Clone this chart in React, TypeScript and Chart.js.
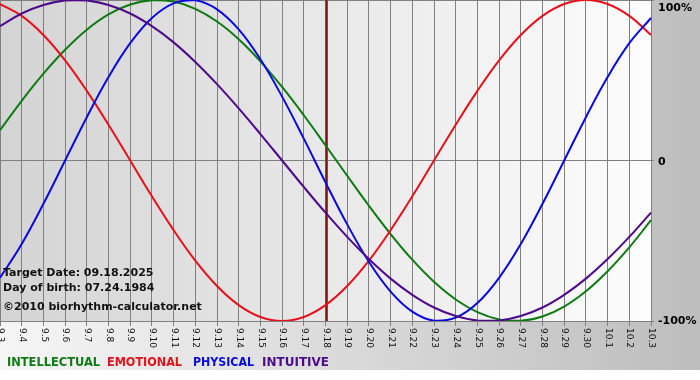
import React, { useEffect, useRef } from "react";
import { Chart, registerables } from "chart.js";

Chart.register(...registerables);

const dateLabels = [
  "9.3", "9.4", "9.5", "9.6", "9.7", "9.8", "9.9", "9.10", "9.11", "9.12", "9.13", "9.14",
  "9.15", "9.16", "9.17", "9.18", "9.19", "9.20", "9.21", "9.22", "9.23", "9.24", "9.25",
  "9.26", "9.27", "9.28", "9.29", "9.30", "10.1", "10.2", "10.3",
];

const intellectual = [
  18.9, 37.2, 54.1, 69.0, 81.5, 91.0, 97.2, 99.9, 99.0, 94.5, 86.6, 75.6, 61.8, 45.8, 28.2, 9.5,
  -9.5, -28.2, -45.8, -61.8, -75.6, -86.6, -94.5, -99.0, -99.9, -97.2, -91.0, -81.5, -69.0, -54.1, -37.2,
];
const emotional = [
  97.5, 90.1, 78.2, 62.4, 43.4, 22.3, 0, -22.3, -43.4, -62.4, -78.2, -90.1, -97.5, -100, -97.5, -90.1,
  -78.2, -62.4, -43.4, -22.3, 0, 22.3, 43.4, 62.4, 78.2, 90.1, 97.5, 100, 97.5, 90.1, 78.2,
];
const physical = [
  -73.1, -52.0, -27.0, 0, 27.0, 52.0, 73.1, 88.8, 97.9, 99.8, 94.2, 81.7, 63.1, 39.8, 13.6, -13.6,
  -39.8, -63.1, -81.7, -94.2, -99.8, -97.9, -88.8, -73.1, -52.0, -27.0, 0, 27.0, 52.0, 73.1, 88.8,
];
const intuitive = [
  83.7, 91.6, 96.9, 99.7, 99.7, 96.9, 91.6, 83.7, 73.6, 61.4, 47.6, 32.5, 16.5, 0, -16.5, -32.5,
  -47.6, -61.4, -73.6, -83.7, -91.6, -96.9, -99.7, -99.7, -96.9, -91.6, -83.7, -73.6, -61.4, -47.6, -32.5,
];

const yTickValues = [100, 0, -100];
const yTickTexts = ["100%", "0", "-100%"];
const targetIndex = 15;
const infoLines = ["Target Date: 09.18.2025", "Day of birth: 07.24.1984", "\u00a92010 biorhythm-calculator.net"];
const legendNames = ["INTELLECTUAL", "EMOTIONAL", "PHYSICAL", "INTUITIVE"];
const legendColors = ["#0e7a12", "#e8101a", "#0a0ae0", "#4e0a8a"];

const decorPlugin = {
  id: "decor",
  beforeDraw(chart: any) {
    const { ctx, chartArea } = chart;
    const W = chart.width;
    ctx.save();
    ctx.fillStyle = "#ffffff";
    ctx.fillRect(0, 0, W, chart.height);
    const g1 = ctx.createLinearGradient(0, 0, W, 0);
    g1.addColorStop(0, "#f6f6f6");
    g1.addColorStop(1, "#bdbdbd");
    ctx.fillStyle = g1;
    ctx.fillRect(0, 0, W, 370);
    const g2 = ctx.createLinearGradient(chartArea.left, 0, chartArea.right, 0);
    g2.addColorStop(0, "#d4d4d4");
    g2.addColorStop(1, "#fdfdfd");
    ctx.fillStyle = g2;
    ctx.fillRect(chartArea.left, chartArea.top, chartArea.right - chartArea.left, chartArea.bottom - chartArea.top);
    ctx.restore();
  },
  beforeDatasetsDraw(chart: any) {
    const { ctx, chartArea, scales } = chart;
    const x = scales.x.getPixelForValue(targetIndex);
    ctx.save();
    ctx.fillStyle = "#b77070";
    ctx.fillRect(Math.round(x) - 1, chartArea.top, 3, chartArea.bottom - chartArea.top);
    ctx.fillStyle = "#7d1212";
    ctx.fillRect(Math.round(x) - 0.5, chartArea.top, 2, chartArea.bottom - chartArea.top);
    ctx.restore();
  },
  afterDraw(chart: any) {
    const { ctx, chartArea, scales } = chart;
    ctx.save();
    // x tick labels rotated clockwise
    ctx.fillStyle = "#111111";
    ctx.font = "9px 'DejaVu Sans'";
    ctx.textAlign = "left";
    ctx.textBaseline = "middle";
    dateLabels.forEach((lab, i) => {
      const x = scales.x.getPixelForValue(i);
      ctx.save();
      ctx.translate(x + 0.5, chartArea.bottom + 7);
      ctx.rotate(Math.PI / 2);
      ctx.fillText(lab, 0, 0);
      ctx.restore();
    });
    // y labels
    ctx.font = "bold 11px 'DejaVu Sans'";
    ctx.fillStyle = "#000000";
    ctx.textBaseline = "middle";
    yTickValues.forEach((v, i) => {
      let y = scales.y.getPixelForValue(v);
      if (v === 100) y = 8;
      if (v === 0) y = 162;
      ctx.fillText(yTickTexts[i], chartArea.right + 7, y);
    });
    // info text
    ctx.textBaseline = "alphabetic";
    ctx.fillStyle = "#111111";
    ctx.font = "bold 11px 'DejaVu Sans'";
    ctx.fillText(infoLines[0], 3, 276, 152);
    ctx.fillText(infoLines[1], 3, 291, 152);
    ctx.fillText(infoLines[2], 3, 310, 200);
    // legend
    ctx.font = "bold 12px 'DejaVu Sans'";
    const lx = [7, 107, 193, 262];
    const lw = [93, 75, 61, 67];
    legendNames.forEach((n, i) => {
      ctx.fillStyle = legendColors[i];
      ctx.fillText(n, lx[i], 366, lw[i]);
    });
    ctx.restore();
  },
};

export default function App() {
  const ref = useRef<HTMLCanvasElement | null>(null);
  useEffect(() => {
    if (!ref.current) return;
    const mk = (label: string, data: number[], color: string) => ({
      label,
      data,
      borderColor: color,
      backgroundColor: color,
      borderWidth: 2,
      pointRadius: 0,
      tension: 0.4,
      fill: false,
    });
    const chart = new Chart(ref.current, {
      type: "line",
      data: {
        labels: dateLabels,
        datasets: [
          mk("INTUITIVE", intuitive, legendColors[3]),
          mk("PHYSICAL", physical, legendColors[2]),
          mk("EMOTIONAL", emotional, legendColors[1]),
          mk("INTELLECTUAL", intellectual, legendColors[0]),
        ],
      },
      options: {
        responsive: false,
        animation: false,
        events: [],
        layout: { padding: 0 },
        plugins: { legend: { display: false }, tooltip: { enabled: false }, title: { display: false } },
        scales: {
          x: {
            type: "category",
            offset: false,
            grid: { color: "#808080", lineWidth: 1, tickLength: 5, drawTicks: true },
            border: { color: "#808080" },
            ticks: { display: false, autoSkip: false },
            afterFit: (s: any) => {
              s.height = 59;
            },
          },
          y: {
            position: "right",
            min: -100,
            max: 100,
            grid: { color: "#808080", lineWidth: 1, tickLength: 3, drawTicks: true },
            border: { display: false },
            ticks: { display: false, stepSize: 100 },
            afterFit: (s: any) => {
              s.width = 49;
            },
          },
        },
      },
      plugins: [decorPlugin],
    });
    return () => chart.destroy();
  }, []);
  return (
    <div style={{ position: "absolute", left: 0, top: 0, width: 700, height: 380 }}>
      <canvas ref={ref} width={700} height={380} style={{ display: "block" }} />
    </div>
  );
}
